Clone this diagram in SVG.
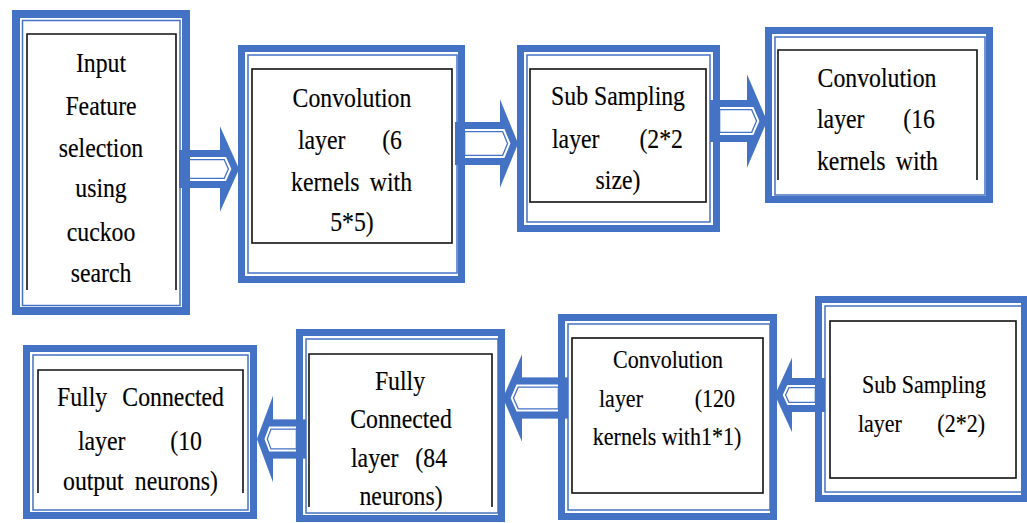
<svg xmlns="http://www.w3.org/2000/svg" xmlns:xlink="http://www.w3.org/1999/xlink" width="1027" height="523" viewBox="0 0 1027 523">
<style>
.ob{fill:none;stroke:#4472C4;}
.tb{fill:none;stroke:#4472C4;stroke-width:1.5;}
.bk{fill:none;stroke:#111;stroke-width:1.6;}
text{font-family:"Liberation Serif","Times New Roman","DejaVu Serif",serif;fill:#000;stroke:#000;stroke-width:0.15;}
.t text{font-size:27px;}
.t2 text{font-size:25px;}
.m{text-anchor:middle;}
.e{text-anchor:end;}
.aw{fill:#fff;}
.a1{fill:none;stroke:#4472C4;stroke-width:20.6;stroke-linejoin:miter;stroke-miterlimit:10;}
.a2{fill:none;stroke:#fff;stroke-width:18;stroke-linejoin:miter;stroke-miterlimit:10;}
.a3{fill:none;stroke:#4472C4;stroke-width:14;stroke-linejoin:miter;stroke-miterlimit:10;}
</style>
<defs>
<polygon id="p1" points="179,150 220,150 220,126.5 239,169 220,211.5 220,188 179,188"/>
<polygon id="p2" points="455,122 500,122 500,99.5 518,143.5 500,187.5 500,165 455,165"/>
<polygon id="p3" points="710,100 747,100 747,74.5 767,121 747,167.5 747,142 710,142"/>
<polygon id="p4" points="775,395 792,358 792,378 825,378 825,412 792,412 792,432"/>
<polygon id="p5" points="503,398 522,354.5 522,377.5 568,377.5 568,418.5 522,418.5 522,441.5"/>
<polygon id="p6" points="257,439 273,396 273,419.5 306,419.5 306,458.5 273,458.5 273,482"/>
<clipPath id="c1"><use xlink:href="#p1"/></clipPath>
<clipPath id="c2"><use xlink:href="#p2"/></clipPath>
<clipPath id="c3"><use xlink:href="#p3"/></clipPath>
<clipPath id="c4"><use xlink:href="#p4"/></clipPath>
<clipPath id="c5"><use xlink:href="#p5"/></clipPath>
<clipPath id="c6"><use xlink:href="#p6"/></clipPath>
</defs>
<rect x="0" y="0" width="1027" height="523" fill="#fff"/>
<g id="connectors">
<g id="arrow-1-2" clip-path="url(#c1)"><use xlink:href="#p1" class="aw"/><use xlink:href="#p1" class="a1"/><use xlink:href="#p1" class="a2"/><use xlink:href="#p1" class="a3"/></g>
<g id="arrow-2-3" clip-path="url(#c2)"><use xlink:href="#p2" class="aw"/><use xlink:href="#p2" class="a1"/><use xlink:href="#p2" class="a2"/><use xlink:href="#p2" class="a3"/></g>
<g id="arrow-3-4" clip-path="url(#c3)"><use xlink:href="#p3" class="aw"/><use xlink:href="#p3" class="a1"/><use xlink:href="#p3" class="a2"/><use xlink:href="#p3" class="a3"/></g>
<g id="arrow-8-7" clip-path="url(#c4)"><use xlink:href="#p4" class="aw"/><use xlink:href="#p4" class="a1"/><use xlink:href="#p4" class="a2"/><use xlink:href="#p4" class="a3"/></g>
<g id="arrow-7-6" clip-path="url(#c5)"><use xlink:href="#p5" class="aw"/><use xlink:href="#p5" class="a1"/><use xlink:href="#p5" class="a2"/><use xlink:href="#p5" class="a3"/></g>
<g id="arrow-6-5" clip-path="url(#c6)"><use xlink:href="#p6" class="aw"/><use xlink:href="#p6" class="a1"/><use xlink:href="#p6" class="a2"/><use xlink:href="#p6" class="a3"/></g>
</g>
<g id="nodes">
<g id="n1">
<rect class="ob" x="16" y="14" width="170" height="297" stroke-width="8"/>
<rect class="tb" x="22.5" y="20.5" width="157.5" height="285"/>
<path class="bk" d="M27 290 V34 H176 V290"/>
<g transform="scale(0.88,1)" class="t">
<text class="m" x="114.8" y="72">Input</text>
<text class="m" x="114.8" y="115">Feature</text>
<text class="m" x="114.8" y="157">selection</text>
<text class="m" x="114.8" y="197">using</text>
<text class="m" x="114.8" y="241">cuckoo</text>
<text class="m" x="114.8" y="282">search</text>
</g>
</g>
<g id="n2">
<rect class="ob" x="241.5" y="48.5" width="220" height="231" stroke-width="7"/>
<rect class="tb" x="248" y="55" width="209" height="218"/>
<rect class="bk" x="252" y="69" width="200" height="174"/>
<g transform="scale(0.88,1)" class="t">
<text class="m" x="400" y="107">Convolution</text>
<text x="338.6" y="149">layer</text><text class="e" x="456.8" y="149">(6</text>
<text x="330.7" y="191">kernels</text><text class="e" x="468.2" y="191">with</text>
<text class="m" x="400" y="231">5*5)</text>
</g>
</g>
<g id="n3">
<rect class="ob" x="520.5" y="48.5" width="196" height="180" stroke-width="7"/>
<rect class="tb" x="527" y="55" width="183" height="167"/>
<rect class="bk" x="530" y="69" width="176" height="133"/>
<g transform="scale(0.88,1)" class="t">
<text class="m" x="702.3" y="105">Sub Sampling</text>
<text x="627.3" y="148">layer</text><text class="e" x="776.1" y="148">(2*2</text>
<text class="m" x="702.3" y="189">size)</text>
</g>
</g>
<g id="n4">
<rect class="ob" x="768.5" y="30.5" width="221" height="169" stroke-width="7"/>
<rect class="tb" x="775" y="37" width="210" height="158"/>
<path class="bk" d="M778 180 V50 H977 V180"/>
<g transform="scale(0.88,1)" class="t">
<text class="m" x="996.6" y="87">Convolution</text>
<text x="928.4" y="128">layer</text><text class="e" x="1062.5" y="128">(16</text>
<text x="928.4" y="170">kernels</text><text class="e" x="1065.9" y="170">with</text>
</g>
</g>
<g id="n5">
<rect class="ob" x="26.5" y="348.5" width="227" height="167" stroke-width="7"/>
<rect class="tb" x="33" y="355" width="215" height="155"/>
<path class="bk" d="M38 493 V370 H243 V493"/>
<g transform="scale(0.88,1)" class="t">
<text x="64.8" y="406">Fully</text><text class="e" x="254.5" y="406">Connected</text>
<text x="88.6" y="450">layer</text><text class="e" x="229.5" y="450">(10</text>
<text x="71.6" y="490">output</text><text class="e" x="247.7" y="490">neurons)</text>
</g>
</g>
<g id="n6">
<rect class="ob" x="299.5" y="332.5" width="202" height="186" stroke-width="7"/>
<rect class="tb" x="306" y="339" width="192" height="174"/>
<path class="bk" d="M309 507 V354 H492 V507"/>
<g transform="scale(0.88,1)" class="t">
<text class="m" x="454.5" y="390">Fully</text>
<text class="m" x="455.7" y="428">Connected</text>
<text x="398.9" y="467">layer</text><text class="e" x="508" y="467">(84</text>
<text class="m" x="455.7" y="505">neurons)</text>
</g>
</g>
<g id="n7">
<rect class="ob" x="561.5" y="317.5" width="212" height="199" stroke-width="7"/>
<rect class="tb" x="568" y="324" width="202" height="186"/>
<rect class="bk" x="572" y="338" width="191" height="155"/>
<g transform="scale(0.88,1)" class="t2">
<text class="m" x="759.1" y="368">Convolution</text>
<text x="680.7" y="407">layer</text><text class="e" x="835.2" y="407">(120</text>
<text class="m" x="758" y="445">kernels with1*1)</text>
</g>
</g>
<g id="n8">
<rect class="ob" x="818.5" y="299.5" width="206" height="199" stroke-width="7"/>
<rect class="tb" x="825" y="306" width="197" height="186"/>
<rect class="bk" x="830" y="321" width="186" height="157"/>
<g transform="scale(0.88,1)" class="t2">
<text class="m" x="1050" y="393">Sub Sampling</text>
<text x="975" y="432">layer</text><text class="e" x="1119.3" y="432">(2*2)</text>
</g>
</g>
</g>
</svg>
